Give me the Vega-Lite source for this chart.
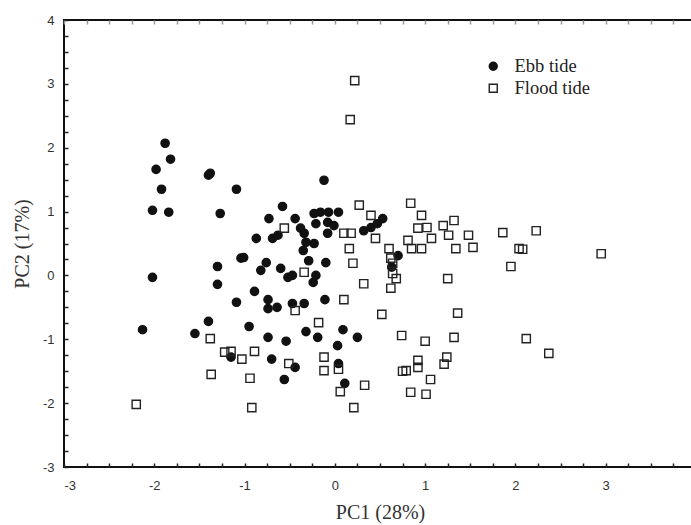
{
  "$schema": "https://vega.github.io/schema/vega-lite/v6.json",
  "width": 632,
  "height": 447,
  "autosize": "none",
  "padding": {"left": 64, "top": 20, "right": 0, "bottom": 58},
  "background": "white",
  "config": {
    "view": {"stroke": "#111", "strokeWidth": 2},
    "axis": {
      "grid": false,
      "domain": false,
      "tickSize": -4,
      "tickColor": "#222",
      "tickWidth": 1.5,
      "labelFont": "Liberation Sans",
      "labelFontSize": 13,
      "labelColor": "#333",
      "titleFont": "Liberation Serif",
      "titleFontSize": 20,
      "titleFontWeight": "normal",
      "titleColor": "#333"
    },
    "legend": {
      "orient": "none",
      "legendX": 420,
      "legendY": 37,
      "labelFont": "Liberation Serif",
      "labelFontSize": 18.5,
      "labelColor": "#222",
      "labelOffset": 12,
      "symbolSize": 64,
      "symbolStrokeWidth": 1.4,
      "rowPadding": 3
    }
  },
  "data": {
    "values": [
      {"pc1": -1.88, "pc2": 2.07, "tide": "Ebb tide"},
      {"pc1": -1.98, "pc2": 1.66, "tide": "Ebb tide"},
      {"pc1": -1.82, "pc2": 1.82, "tide": "Ebb tide"},
      {"pc1": -1.92, "pc2": 1.35, "tide": "Ebb tide"},
      {"pc1": -2.02, "pc2": 1.02, "tide": "Ebb tide"},
      {"pc1": -1.84, "pc2": 0.99, "tide": "Ebb tide"},
      {"pc1": -1.38, "pc2": 1.60, "tide": "Ebb tide"},
      {"pc1": -1.40, "pc2": 1.57, "tide": "Ebb tide"},
      {"pc1": -1.09, "pc2": 1.35, "tide": "Ebb tide"},
      {"pc1": -1.27, "pc2": 0.97, "tide": "Ebb tide"},
      {"pc1": -0.12, "pc2": 1.49, "tide": "Ebb tide"},
      {"pc1": -0.58, "pc2": 1.08, "tide": "Ebb tide"},
      {"pc1": -0.73, "pc2": 0.89, "tide": "Ebb tide"},
      {"pc1": -0.44, "pc2": 0.89, "tide": "Ebb tide"},
      {"pc1": -0.87, "pc2": 0.58, "tide": "Ebb tide"},
      {"pc1": -0.69, "pc2": 0.58, "tide": "Ebb tide"},
      {"pc1": -0.63, "pc2": 0.63, "tide": "Ebb tide"},
      {"pc1": -0.38, "pc2": 0.74, "tide": "Ebb tide"},
      {"pc1": -0.34, "pc2": 0.66, "tide": "Ebb tide"},
      {"pc1": -0.23, "pc2": 0.97, "tide": "Ebb tide"},
      {"pc1": -0.16, "pc2": 0.99, "tide": "Ebb tide"},
      {"pc1": -0.07, "pc2": 0.99, "tide": "Ebb tide"},
      {"pc1": 0.04, "pc2": 0.99, "tide": "Ebb tide"},
      {"pc1": -0.21, "pc2": 0.81, "tide": "Ebb tide"},
      {"pc1": -0.08, "pc2": 0.83, "tide": "Ebb tide"},
      {"pc1": -0.01, "pc2": 0.78, "tide": "Ebb tide"},
      {"pc1": -0.08, "pc2": 0.66, "tide": "Ebb tide"},
      {"pc1": -0.32, "pc2": 0.52, "tide": "Ebb tide"},
      {"pc1": -0.23, "pc2": 0.50, "tide": "Ebb tide"},
      {"pc1": -0.35, "pc2": 0.39, "tide": "Ebb tide"},
      {"pc1": -1.04, "pc2": 0.27, "tide": "Ebb tide"},
      {"pc1": -1.01, "pc2": 0.28, "tide": "Ebb tide"},
      {"pc1": -0.76, "pc2": 0.20, "tide": "Ebb tide"},
      {"pc1": -0.82, "pc2": 0.08, "tide": "Ebb tide"},
      {"pc1": -0.60, "pc2": 0.11, "tide": "Ebb tide"},
      {"pc1": -0.29, "pc2": 0.23, "tide": "Ebb tide"},
      {"pc1": -0.10, "pc2": 0.20, "tide": "Ebb tide"},
      {"pc1": -1.30, "pc2": 0.14, "tide": "Ebb tide"},
      {"pc1": -0.52, "pc2": -0.03, "tide": "Ebb tide"},
      {"pc1": -0.47, "pc2": 0.00, "tide": "Ebb tide"},
      {"pc1": -0.24, "pc2": -0.11, "tide": "Ebb tide"},
      {"pc1": -0.21, "pc2": 0.00, "tide": "Ebb tide"},
      {"pc1": -2.02, "pc2": -0.03, "tide": "Ebb tide"},
      {"pc1": -1.30, "pc2": -0.14, "tide": "Ebb tide"},
      {"pc1": -0.89, "pc2": -0.25, "tide": "Ebb tide"},
      {"pc1": -1.09, "pc2": -0.42, "tide": "Ebb tide"},
      {"pc1": -0.74, "pc2": -0.38, "tide": "Ebb tide"},
      {"pc1": -0.74, "pc2": -0.52, "tide": "Ebb tide"},
      {"pc1": -0.64, "pc2": -0.50, "tide": "Ebb tide"},
      {"pc1": -0.47, "pc2": -0.44, "tide": "Ebb tide"},
      {"pc1": -0.34, "pc2": -0.44, "tide": "Ebb tide"},
      {"pc1": -0.11, "pc2": -0.38, "tide": "Ebb tide"},
      {"pc1": -1.40, "pc2": -0.72, "tide": "Ebb tide"},
      {"pc1": -0.95, "pc2": -0.80, "tide": "Ebb tide"},
      {"pc1": -2.13, "pc2": -0.85, "tide": "Ebb tide"},
      {"pc1": -1.55, "pc2": -0.91, "tide": "Ebb tide"},
      {"pc1": -0.32, "pc2": -0.88, "tide": "Ebb tide"},
      {"pc1": 0.09, "pc2": -0.85, "tide": "Ebb tide"},
      {"pc1": -0.74, "pc2": -0.97, "tide": "Ebb tide"},
      {"pc1": -0.54, "pc2": -1.03, "tide": "Ebb tide"},
      {"pc1": -0.19, "pc2": -0.97, "tide": "Ebb tide"},
      {"pc1": 0.03, "pc2": -1.10, "tide": "Ebb tide"},
      {"pc1": 0.25, "pc2": -0.97, "tide": "Ebb tide"},
      {"pc1": -1.15, "pc2": -1.28, "tide": "Ebb tide"},
      {"pc1": -0.70, "pc2": -1.31, "tide": "Ebb tide"},
      {"pc1": -0.44, "pc2": -1.44, "tide": "Ebb tide"},
      {"pc1": 0.04, "pc2": -1.38, "tide": "Ebb tide"},
      {"pc1": -0.56, "pc2": -1.63, "tide": "Ebb tide"},
      {"pc1": 0.11, "pc2": -1.69, "tide": "Ebb tide"},
      {"pc1": 0.32, "pc2": 0.70, "tide": "Ebb tide"},
      {"pc1": 0.40, "pc2": 0.75, "tide": "Ebb tide"},
      {"pc1": 0.53, "pc2": 0.89, "tide": "Ebb tide"},
      {"pc1": 0.47, "pc2": 0.81, "tide": "Ebb tide"},
      {"pc1": 0.70, "pc2": 0.31, "tide": "Ebb tide"},
      {"pc1": 0.63, "pc2": 0.13, "tide": "Ebb tide"},
      {"pc1": 0.22, "pc2": 3.05, "tide": "Flood tide"},
      {"pc1": 0.17, "pc2": 2.44, "tide": "Flood tide"},
      {"pc1": 0.27, "pc2": 1.10, "tide": "Flood tide"},
      {"pc1": 0.40, "pc2": 0.94, "tide": "Flood tide"},
      {"pc1": 0.10, "pc2": 0.66, "tide": "Flood tide"},
      {"pc1": 0.18, "pc2": 0.66, "tide": "Flood tide"},
      {"pc1": 0.16, "pc2": 0.42, "tide": "Flood tide"},
      {"pc1": 0.20, "pc2": 0.19, "tide": "Flood tide"},
      {"pc1": 0.45, "pc2": 0.58, "tide": "Flood tide"},
      {"pc1": 0.60, "pc2": 0.42, "tide": "Flood tide"},
      {"pc1": 0.62, "pc2": 0.27, "tide": "Flood tide"},
      {"pc1": 0.64, "pc2": 0.19, "tide": "Flood tide"},
      {"pc1": 0.64, "pc2": 0.03, "tide": "Flood tide"},
      {"pc1": 0.68, "pc2": -0.05, "tide": "Flood tide"},
      {"pc1": 0.62, "pc2": -0.20, "tide": "Flood tide"},
      {"pc1": 0.32, "pc2": -0.13, "tide": "Flood tide"},
      {"pc1": 0.84, "pc2": 1.13, "tide": "Flood tide"},
      {"pc1": 0.96, "pc2": 0.94, "tide": "Flood tide"},
      {"pc1": 0.92, "pc2": 0.74, "tide": "Flood tide"},
      {"pc1": 1.02, "pc2": 0.75, "tide": "Flood tide"},
      {"pc1": 0.81, "pc2": 0.55, "tide": "Flood tide"},
      {"pc1": 0.85, "pc2": 0.42, "tide": "Flood tide"},
      {"pc1": 0.96, "pc2": 0.42, "tide": "Flood tide"},
      {"pc1": 1.07, "pc2": 0.58, "tide": "Flood tide"},
      {"pc1": 1.20, "pc2": 0.78, "tide": "Flood tide"},
      {"pc1": 1.26, "pc2": 0.63, "tide": "Flood tide"},
      {"pc1": 1.32, "pc2": 0.86, "tide": "Flood tide"},
      {"pc1": 1.34, "pc2": 0.42, "tide": "Flood tide"},
      {"pc1": 1.48, "pc2": 0.63, "tide": "Flood tide"},
      {"pc1": 1.53, "pc2": 0.44, "tide": "Flood tide"},
      {"pc1": 1.25, "pc2": -0.05, "tide": "Flood tide"},
      {"pc1": 1.86, "pc2": 0.67, "tide": "Flood tide"},
      {"pc1": 2.23, "pc2": 0.70, "tide": "Flood tide"},
      {"pc1": 2.04, "pc2": 0.42, "tide": "Flood tide"},
      {"pc1": 2.08, "pc2": 0.41, "tide": "Flood tide"},
      {"pc1": 1.95, "pc2": 0.14, "tide": "Flood tide"},
      {"pc1": 2.95, "pc2": 0.34, "tide": "Flood tide"},
      {"pc1": -0.34, "pc2": 0.05, "tide": "Flood tide"},
      {"pc1": -0.56, "pc2": 0.74, "tide": "Flood tide"},
      {"pc1": 0.10, "pc2": -0.38, "tide": "Flood tide"},
      {"pc1": -0.44, "pc2": -0.55, "tide": "Flood tide"},
      {"pc1": -0.18, "pc2": -0.74, "tide": "Flood tide"},
      {"pc1": 0.52, "pc2": -0.61, "tide": "Flood tide"},
      {"pc1": 1.36, "pc2": -0.59, "tide": "Flood tide"},
      {"pc1": 0.74, "pc2": -0.94, "tide": "Flood tide"},
      {"pc1": 1.00, "pc2": -1.03, "tide": "Flood tide"},
      {"pc1": 1.32, "pc2": -0.97, "tide": "Flood tide"},
      {"pc1": 2.12, "pc2": -0.99, "tide": "Flood tide"},
      {"pc1": 2.37, "pc2": -1.22, "tide": "Flood tide"},
      {"pc1": -1.38, "pc2": -0.99, "tide": "Flood tide"},
      {"pc1": -1.22, "pc2": -1.20, "tide": "Flood tide"},
      {"pc1": -1.15, "pc2": -1.19, "tide": "Flood tide"},
      {"pc1": -1.03, "pc2": -1.31, "tide": "Flood tide"},
      {"pc1": -0.89, "pc2": -1.19, "tide": "Flood tide"},
      {"pc1": -0.51, "pc2": -1.38, "tide": "Flood tide"},
      {"pc1": -0.12, "pc2": -1.28, "tide": "Flood tide"},
      {"pc1": -0.12, "pc2": -1.49, "tide": "Flood tide"},
      {"pc1": 0.04, "pc2": -1.47, "tide": "Flood tide"},
      {"pc1": -1.37, "pc2": -1.55, "tide": "Flood tide"},
      {"pc1": -0.94, "pc2": -1.61, "tide": "Flood tide"},
      {"pc1": 0.06, "pc2": -1.82, "tide": "Flood tide"},
      {"pc1": -2.20, "pc2": -2.02, "tide": "Flood tide"},
      {"pc1": -0.92, "pc2": -2.07, "tide": "Flood tide"},
      {"pc1": 0.21, "pc2": -2.07, "tide": "Flood tide"},
      {"pc1": 0.92, "pc2": -1.33, "tide": "Flood tide"},
      {"pc1": 0.92, "pc2": -1.44, "tide": "Flood tide"},
      {"pc1": 0.79, "pc2": -1.49, "tide": "Flood tide"},
      {"pc1": 0.75, "pc2": -1.50, "tide": "Flood tide"},
      {"pc1": 1.24, "pc2": -1.28, "tide": "Flood tide"},
      {"pc1": 1.21, "pc2": -1.39, "tide": "Flood tide"},
      {"pc1": 1.06, "pc2": -1.63, "tide": "Flood tide"},
      {"pc1": 0.33, "pc2": -1.72, "tide": "Flood tide"},
      {"pc1": 0.84, "pc2": -1.83, "tide": "Flood tide"},
      {"pc1": 1.01, "pc2": -1.86, "tide": "Flood tide"}
    ]
  },
  "layer": [
    {
      "mark": {"type": "point", "filled": true, "size": 68, "strokeWidth": 1.4, "opacity": 1},
      "encoding": {
        "x": {
          "field": "pc1",
          "type": "quantitative",
          "scale": {"domain": [-3, 4], "nice": false, "zero": false},
          "title": "PC1 (28%)",
          "axis": {
            "orient": "bottom",
            "values": [-3, -2.75, -2.5, -2.25, -2, -1.75, -1.5, -1.25, -1, -0.75, -0.5, -0.25, 0, 0.25, 0.5, 0.75, 1, 1.25, 1.5, 1.75, 2, 2.25, 2.5, 2.75, 3, 3.25, 3.5, 3.75, 4],
            "labelExpr": "datum.value % 1 === 0 && datum.value < 4 ? '' + datum.value : ''",
            "labelPadding": 16,
            "titlePadding": 10
          }
        },
        "y": {
          "field": "pc2",
          "type": "quantitative",
          "scale": {"domain": [-3, 4], "nice": false, "zero": false},
          "title": "PC2 (17%)",
          "axis": {
            "values": [-3, -2.75, -2.5, -2.25, -2, -1.75, -1.5, -1.25, -1, -0.75, -0.5, -0.25, 0, 0.25, 0.5, 0.75, 1, 1.25, 1.5, 1.75, 2, 2.25, 2.5, 2.75, 3, 3.25, 3.5, 3.75, 4],
            "labelExpr": "datum.value % 1 === 0 ? '' + datum.value : ''",
            "labelPadding": 14,
            "titlePadding": 10
          }
        },
        "shape": {
          "field": "tide",
          "type": "nominal",
          "title": null,
          "scale": {"domain": ["Ebb tide", "Flood tide"], "range": ["circle", "square"]}
        },
        "fill": {
          "field": "tide",
          "type": "nominal",
          "title": null,
          "scale": {"domain": ["Ebb tide", "Flood tide"], "range": ["#111111", "transparent"]}
        },
        "stroke": {
          "field": "tide",
          "type": "nominal",
          "title": null,
          "scale": {"domain": ["Ebb tide", "Flood tide"], "range": ["#111111", "#222222"]}
        }
      }
    },
    {
      "mark": {"type": "point", "opacity": 0},
      "encoding": {
        "x": {
          "field": "pc1",
          "type": "quantitative",
          "title": null,
          "axis": {
            "orient": "top",
            "values": [-3, -2.75, -2.5, -2.25, -2, -1.75, -1.5, -1.25, -1, -0.75, -0.5, -0.25, 0, 0.25, 0.5, 0.75, 1, 1.25, 1.5, 1.75, 2, 2.25, 2.5, 2.75, 3, 3.25, 3.5, 3.75, 4],
            "labels": false,
            "tickColor": "#999"
          }
        }
      }
    }
  ],
  "resolve": {"axis": {"x": "independent"}}
}
